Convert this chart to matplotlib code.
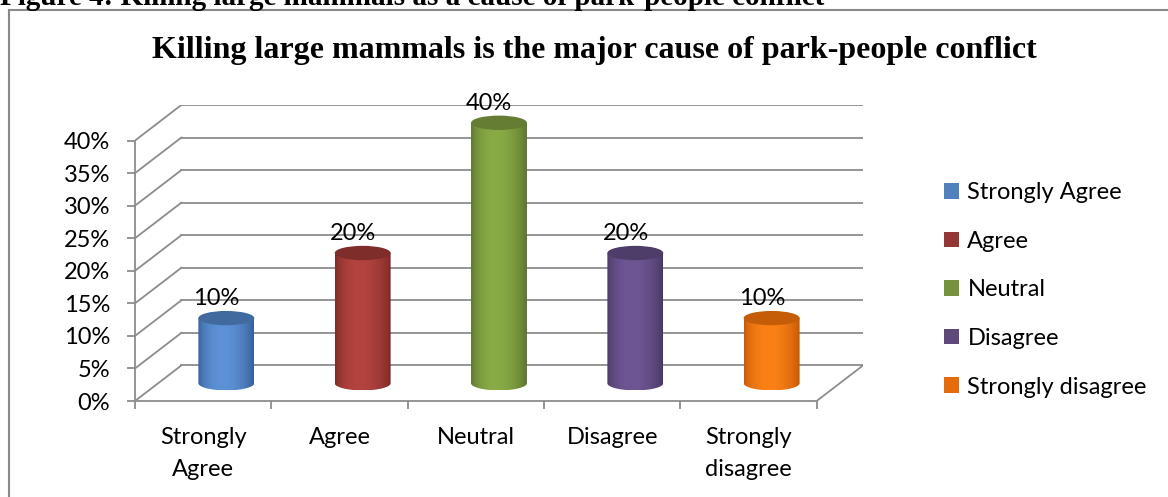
import numpy as np
import matplotlib
matplotlib.use('Agg')
import matplotlib.pyplot as plt
from matplotlib.patches import Ellipse, PathPatch, Patch
from matplotlib.path import Path
from matplotlib.lines import Line2D
from matplotlib.colors import to_rgb

categories = ['Strongly Agree', 'Agree', 'Neutral', 'Disagree', 'Strongly disagree']
tick_labels = ['Strongly\nAgree', 'Agree', 'Neutral', 'Disagree', 'Strongly\ndisagree']
values = [0.10, 0.20, 0.40, 0.20, 0.10]
value_labels = ['10%', '20%', '40%', '20%', '10%']
yticks = [0.0, 0.05, 0.10, 0.15, 0.20, 0.25, 0.30, 0.35, 0.40]

legend_colors = ['#4f81bd', '#953735', '#76923c', '#5f497a', '#e46c0a']
edge_colors = ['#335c92', '#7a2826', '#58712f', '#47385f', '#c25604']
mid_colors = ['#5d92d8', '#b3433f', '#89ab46', '#6e5695', '#fb8116']
cap_colors = ['#416a9f', '#7f2d2b', '#647d33', '#4e3d69', '#c45c08']

W, H = 1168, 497
fig = plt.figure(figsize=(W / 100, H / 100), dpi=100)

DX = 0.34      # depth offset in category units
DY = 0.0546    # depth offset in value units
BW = 0.41      # cylinder width
EH = 0.022     # ellipse full height
FS = 17

ax = fig.add_axes([135 / W, 96 / H, (863 - 135) / W, (401 - 105) / H])
ax.set_facecolor('none')

grid_c = '#8c8c8c'
lw = 1.3
x0, x1 = -0.5, len(categories) - 0.5
# walls: gridlines front-left diagonal + back line
for y in yticks:
    ax.plot([x0, x0 + DX], [y, y + DY], color=grid_c, lw=lw, zorder=1)
    ax.plot([x0 + DX, x1 + DX], [y + DY, y + DY], color=grid_c, lw=lw, zorder=1)
# floor right edge
ax.plot([x1, x1 + DX], [0, DY], color=grid_c, lw=lw, zorder=1)


def draw_cylinder(i, v):
    xc = i + DX / 2
    base = DY / 2
    top = v + DY / 2
    t = np.linspace(np.pi, 2 * np.pi, 40)
    arc = np.column_stack([xc + BW / 2 * np.cos(t), base + EH / 2 * np.sin(t)])
    verts = np.vstack([[xc - BW / 2, top], arc, [xc + BW / 2, top], [xc - BW / 2, top]])
    codes = [Path.MOVETO] + [Path.LINETO] * (len(verts) - 2) + [Path.CLOSEPOLY]
    clip = PathPatch(Path(verts, codes), facecolor='none', edgecolor='none')
    ax.add_patch(clip)
    s = np.linspace(0, 1, 200)
    k = np.clip(np.sin(np.pi * (s ** 0.85)), 0, 1) ** 0.7
    e = np.array(to_rgb(edge_colors[i]))
    m = np.array(to_rgb(mid_colors[i]))
    grad = e[None, :] * (1 - k[:, None]) + m[None, :] * k[:, None]
    im = ax.imshow(grad[None, :, :], extent=(xc - BW / 2, xc + BW / 2, base - EH / 2, top),
                   aspect='auto', zorder=3, interpolation='bilinear')
    im.set_clip_path(clip)
    ax.add_patch(Ellipse((xc, top), BW, EH, facecolor=cap_colors[i], edgecolor='none',
                         zorder=4))
    ax.annotate(value_labels[i], (xc, top + EH / 2), xytext=(-7, 4),
                textcoords='offset points', ha='center', va='baseline',
                fontsize=FS, family='Lato', color='black', zorder=5)


for i, v in enumerate(values):
    draw_cylinder(i, v)

ax.set_xlim(x0, x1 + DX)
ax.set_ylim(0, 0.40 + DY)

for sp in ['top', 'right']:
    ax.spines[sp].set_visible(False)
ax.spines['left'].set_bounds(0, 0.40)
ax.spines['bottom'].set_bounds(x0, x1)
for sp in ['left', 'bottom']:
    ax.spines[sp].set_color(grid_c)
    ax.spines[sp].set_linewidth(lw)

ax.set_yticks(yticks)
ax.set_yticklabels([f'{int(round(y * 100))}%' for y in yticks])
ax.tick_params(axis='y', direction='out', length=6, width=lw, color=grid_c,
               pad=12, labelsize=FS)
ax.set_xticks(np.arange(x0, x1 + 0.01, 1.0))
ax.set_xticklabels([])
ax.tick_params(axis='x', which='major', direction='out', length=6, width=lw, color=grid_c)
ax.set_xticks(np.arange(len(categories)), minor=True)
ax.set_xticklabels(tick_labels, minor=True)
ax.tick_params(axis='x', which='minor', length=0, pad=19, labelsize=FS)
for lab in ax.get_yticklabels() + ax.get_xticklabels(minor=True):
    lab.set_family('Lato')
for lab in ax.get_xticklabels(minor=True):
    lab.set_linespacing(1.6)

handles = [Patch(facecolor=c, edgecolor='none') for c in legend_colors]
leg = fig.legend(handles, categories, loc='upper left', bbox_to_anchor=(944 / W, 1 - 182 / H),
                 frameon=False, prop={'family': 'Lato', 'size': FS},
                 handlelength=0.64, handleheight=0.64, handletextpad=0.35,
                 labelspacing=1.17, borderaxespad=0, borderpad=0)

fig.text(594 / W, 1 - 58 / H, 'Killing large mammals is the major cause of park-people conflict',
         ha='center', va='baseline', fontsize=23, weight='bold', family='Liberation Serif')
fig.text(0.0, 1 - 5 / H, 'Figure 4: Killing large mammals as a cause of park-people conflict',
         ha='left', va='baseline', fontsize=21, weight='bold', family='Liberation Serif')

border_c = '#8a8a8a'
fig.add_artist(Line2D([9 / W, 9 / W], [0, 1 - 10 / H], color=border_c, lw=1.5))
fig.add_artist(Line2D([9 / W, 1], [1 - 10 / H, 1 - 10 / H], color=border_c, lw=1.5))

fig.savefig('out.png', dpi=100)
